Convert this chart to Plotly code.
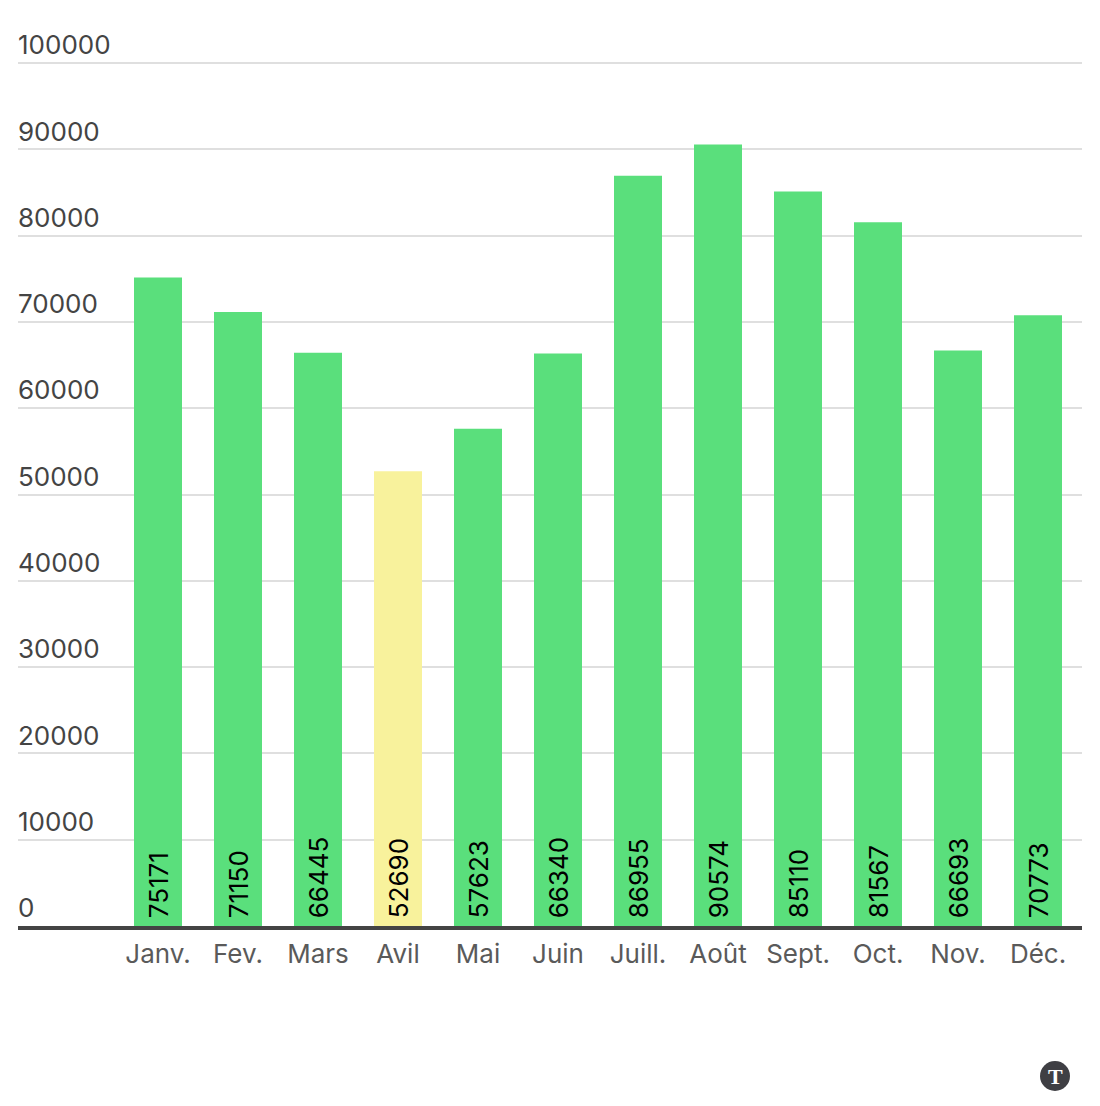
import plotly.graph_objects as go

months = ["Janv.", "Fev.", "Mars", "Avil", "Mai", "Juin", "Juill.", "Août", "Sept.", "Oct.", "Nov.", "Déc."]
values = [75171, 71150, 66445, 52690, 57623, 66340, 86955, 90574, 85110, 81567, 66693, 70773]
y_ticks = [0, 10000, 20000, 30000, 40000, 50000, 60000, 70000, 80000, 90000, 100000]

GREEN = "#5ADF7C"
YELLOW = "#F8F29C"
bar_colors = [YELLOW if m == "Avil" else GREEN for m in months]

fig = go.Figure(go.Bar(
    x=months,
    y=values,
    width=0.6,
    marker=dict(color=bar_colors, line=dict(width=0)),
    text=[str(v) for v in values],
    texttemplate="\u2009%{text}",
    textposition="inside",
    insidetextanchor="start",
    textangle=-90,
    textfont=dict(color="#000000", size=26, family="Inter"),
    hoverinfo="skip",
))

fig.update_layout(
    width=1100,
    height=1106,
    margin=dict(l=18, r=18, t=20, b=180, autoexpand=False),
    paper_bgcolor="white",
    plot_bgcolor="white",
    showlegend=False,
    font=dict(family="Inter", color="#5A5A5A", size=26),
)
fig.update_xaxes(
    type="category",
    range=[-1.75, 11.55],
    showgrid=False,
    showline=False,
    ticks="",
    ticklabelstandoff=10,
    tickangle=0,
)
fig.update_yaxes(
    range=[0, 105000],
    tickvals=y_ticks,
    ticktext=[str(t) for t in y_ticks],
    ticklabelposition="inside",
    ticklabelshift=-18,
    ticklabelstandoff=-3,
    showgrid=True,
    gridcolor="#DFDFDF",
    gridwidth=2,
    zeroline=False,
    ticks="",
)

# baseline, drawn over the bars
fig.add_shape(type="line", xref="paper", yref="paper", x0=0, x1=1, y0=-2 / 906, y1=-2 / 906,
              line=dict(color="#444444", width=4), layer="above")

# logo in the corner
fig.add_shape(type="circle", xref="paper", yref="paper",
              x0=(1040 - 18) / 1064, x1=(1070 - 18) / 1064,
              y0=(926 - 1091) / 906, y1=(926 - 1061) / 906,
              fillcolor="#3F3F44", line=dict(width=0))
fig.add_annotation(text="<b>T</b>", xref="paper", yref="paper",
                   x=(1055 - 18) / 1064, y=(926 - 1076) / 906, showarrow=False,
                   xanchor="center", yanchor="middle",
                   font=dict(family="Liberation Serif", size=22, color="white"))

fig.write_html("out.html", post_script="document.body.style.margin='0';",
               config=dict(displayModeBar=False))
